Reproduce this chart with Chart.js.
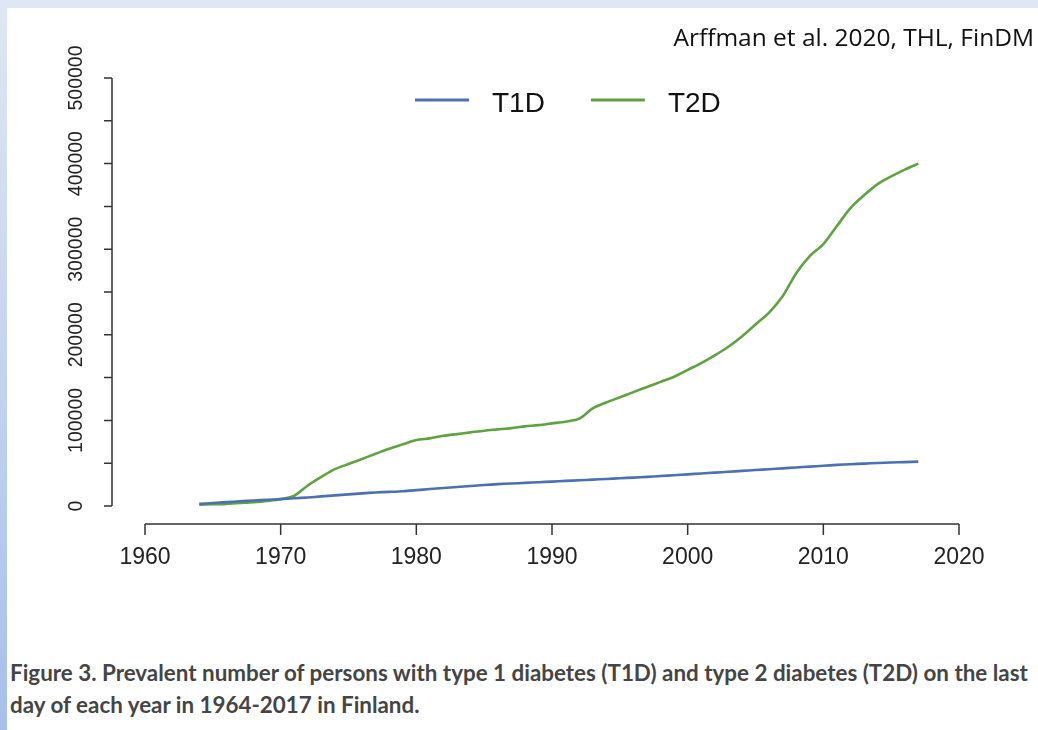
<!DOCTYPE html>
<html>
<head>
<meta charset="utf-8">
<script src="https://cdn.jsdelivr.net/npm/chart.js@4.4.1/dist/chart.umd.min.js"></script>
<style>
  body {
    margin: 0;
    width: 1038px;
    height: 730px;
    overflow: hidden;
    background: linear-gradient(to bottom, #dfe7f4, #a8bfea);
    position: relative;
  }
  #panel {
    position: absolute;
    left: 7px;
    top: 8px;
    right: 0;
    bottom: 0;
    background: #fff;
  }
  #chart {
    position: absolute;
    left: 0;
    top: 0;
  }
  #source {
    position: absolute;
    right: 4px;
    top: 20px;
    font-family: "Open Sans", sans-serif;
    font-size: 24.5px;
    color: #111;
  }
  #caption {
    position: absolute;
    left: 10px;
    top: 657px;
    font-family: Lato, sans-serif;
    font-weight: bold;
    font-size: 22.4px;
    line-height: 32px;
    color: #454545;
    white-space: nowrap;
  }
</style>
</head>
<body>
<div id="panel"></div>
<canvas id="chart" width="1038" height="620"></canvas>
<div id="source">Arffman et al. 2020, THL, FinDM</div>
<div id="caption">Figure 3. Prevalent number of persons with type 1 diabetes (T1D) and type 2 diabetes (T2D) on the last<br>day of each year in 1964-2017 in Finland.</div>

<script>
// Years 1964-2017
const years = [];
for (let y = 1964; y <= 2017; y++) years.push(y);

// Values (persons)
const t1d = [
    2500, 3500, 4500, 5500, 6500, 7300, 8000, 9000, 10000, 11200,
    12400, 13600, 14800, 15800, 16500, 17300, 18500, 19800, 21000, 22200,
    23400, 24500, 25500, 26300, 27000, 27800, 28500, 29300, 30000, 30800,
    31600, 32400, 33200, 34000, 35000, 36000, 37000, 38000, 39000, 40000,
    41000, 42000, 43000, 44000, 45000, 46000, 47000, 48000, 48800, 49500,
    50200, 50800, 51300, 51800
];
const t2d = [
    1500, 2000, 2500, 3500, 4500, 6000, 8000, 12000, 24000, 34000,
    43000, 49000, 55000, 61000, 67000, 72000, 77000, 79000, 82000, 84000,
    86000, 88000, 89500, 91000, 93000, 94500, 96500, 98500, 102000, 114000,
    121000, 127000, 133000, 139000, 145000, 151000, 159000, 167000, 176000, 186000,
    198000, 212000, 226000, 245000, 272000, 292000, 306000, 327000, 348000, 363000,
    376000, 385000, 393000, 400000
];

const seriesNames = ["T1D", "T2D"];
const seriesColors = ["#4d70b3", "#5ea33f"];

const xTickLabels = [1960, 1970, 1980, 1990, 2000, 2010, 2020];
const yTickLabels = [0, 100000, 200000, 300000, 400000, 500000];

function toPoints(values) {
    return years.map((yr, i) => ({ x: yr, y: values[i] }));
}

// R-style detached axes + legend
const rAxes = {
    id: "rAxes",
    afterDraw(chart) {
        const ctx = chart.ctx;
        const xs = chart.scales.x;
        const ys = chart.scales.y;
        ctx.save();
        ctx.strokeStyle = "#333";
        ctx.fillStyle = "#222";
        ctx.lineWidth = 1.5;

        // y axis
        const ax = 112;
        ctx.beginPath();
        ctx.moveTo(ax, ys.getPixelForValue(0));
        ctx.lineTo(ax, ys.getPixelForValue(500000));
        ys.ticks.forEach(t => {
            const py = ys.getPixelForValue(t.value);
            ctx.moveTo(ax, py);
            ctx.lineTo(ax - 8, py);
        });
        ctx.stroke();

        ctx.font = "19.5px 'Liberation Sans', Arial, sans-serif";
        ctx.textAlign = "center";
        ctx.textBaseline = "middle";
        yTickLabels.forEach(v => {
            const py = ys.getPixelForValue(v);
            ctx.save();
            ctx.translate(77, py);
            ctx.rotate(-Math.PI / 2);
            ctx.fillText(String(v), 0, 0);
            ctx.restore();
        });

        // x axis
        const ay = 524;
        ctx.beginPath();
        ctx.moveTo(xs.getPixelForValue(1960), ay);
        ctx.lineTo(xs.getPixelForValue(2020), ay);
        xTickLabels.forEach(v => {
            const px = xs.getPixelForValue(v);
            ctx.moveTo(px, ay);
            ctx.lineTo(px, ay + 11);
        });
        ctx.stroke();

        ctx.font = "23px 'Liberation Sans', Arial, sans-serif";
        xTickLabels.forEach(v => {
            ctx.fillText(String(v), xs.getPixelForValue(v), 558);
        });

        // legend
        ctx.font = "28px 'Liberation Sans', Arial, sans-serif";
        ctx.textAlign = "left";
        let lx = 415;
        chart.data.datasets.forEach(ds => {
            ctx.strokeStyle = ds.borderColor;
            ctx.lineWidth = 3;
            ctx.beginPath();
            ctx.moveTo(lx, 100);
            ctx.lineTo(lx + 54, 100);
            ctx.stroke();
            lx += 77;
            ctx.fillStyle = "#111";
            ctx.fillText(ds.label, lx, 104);
            lx += ctx.measureText(ds.label).width + 46;
        });
        ctx.restore();
    }
};

new Chart(document.getElementById("chart"), {
    type: "line",
    data: {
        datasets: seriesNames.map((name, i) => ({
            label: name,
            data: toPoints(i === 0 ? t1d : t2d),
            borderColor: seriesColors[i],
            borderWidth: 2.6,
            pointRadius: 0,
            tension: 0.3,
            fill: false
        }))
    },
    options: {
        responsive: false,
        animation: false,
        layout: { padding: { left: 0, right: 79, top: 78, bottom: 0 } },
        plugins: {
            legend: { display: false },
            tooltip: { enabled: false }
        },
        scales: {
            x: {
                type: "linear",
                min: 1960,
                max: 2020,
                grid: { display: false },
                border: { display: false },
                ticks: { display: false, stepSize: 10 },
                afterFit: s => { s.height = 114; }
            },
            y: {
                min: 0,
                max: 500000,
                grid: { display: false },
                border: { display: false },
                ticks: { display: false, stepSize: 50000 },
                afterFit: s => { s.width = 145; }
            }
        }
    },
    plugins: [rAxes]
});
</script>
</body>
</html>
